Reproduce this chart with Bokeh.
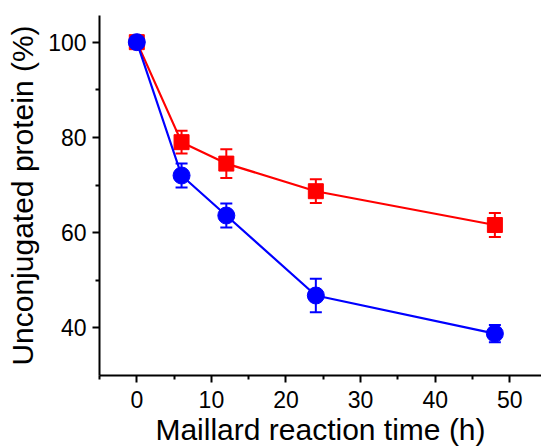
from bokeh.plotting import figure
from bokeh.models import ColumnDataSource, Whisker, Range1d, FixedTicker
from bokeh.embed import file_html
from bokeh.resources import INLINE

# Reaction times (h) and unconjugated protein (%) with standard deviations
time_h = [0, 6, 12, 24, 48]
red_vals = [100.0, 79.0, 74.5, 68.7, 61.6]
red_err = [0.8, 2.4, 3.0, 2.5, 2.5]
blue_vals = [100.0, 72.0, 63.6, 46.8, 38.8]
blue_err = [0.8, 2.5, 2.5, 3.5, 1.8]

x_ticks = [0, 10, 20, 30, 40, 50]
x_minor = [-5, 5, 15, 25, 35, 45]
y_ticks = [40, 60, 80, 100]
y_minor = [50, 70, 90]

FONT = "Liberation Sans"

p = figure(width=541, height=448, output_backend="svg", toolbar_location=None,
           x_range=Range1d(-5, 54.25), y_range=Range1d(30, 105.6),
           min_border_left=99, min_border_right=0, min_border_top=15,
           min_border_bottom=70)
p.outline_line_color = None
p.grid.visible = False
p.background_fill_color = "white"
p.border_fill_color = "white"

for ax in (p.xaxis, p.yaxis):
    ax.axis_line_width = 2
    ax.axis_line_color = "black"
    ax.major_tick_line_width = 2
    ax.minor_tick_line_width = 2
    ax.major_tick_out = 7
    ax.major_tick_in = 0
    ax.minor_tick_out = 4
    ax.minor_tick_in = 0
    ax.major_label_text_font = FONT
    ax.major_label_text_font_size = "23px"
    ax.major_label_text_color = "black"
    ax.axis_label_text_font = FONT
    ax.axis_label_text_font_size = "30px"
    ax.axis_label_text_font_style = "normal"
    ax.axis_label_text_color = "black"

p.xaxis.ticker = FixedTicker(ticks=x_ticks, minor_ticks=x_minor)
p.yaxis.ticker = FixedTicker(ticks=y_ticks, minor_ticks=y_minor)
p.xaxis.axis_label = "Maillard reaction time (h)"
p.yaxis.axis_label = "Unconjugated protein (%)"
p.xaxis.major_label_standoff = 8
p.yaxis.major_label_standoff = 6
p.xaxis.axis_label_standoff = 2
p.yaxis.axis_label_standoff = 6


def series(vals, errs, color, marker, size):
    src = ColumnDataSource(dict(
        x=time_h, y=vals,
        lo=[v - e for v, e in zip(vals, errs)],
        hi=[v + e for v, e in zip(vals, errs)],
    ))
    p.line("x", "y", source=src, line_color=color, line_width=2.2)
    w = Whisker(source=src, base="x", lower="lo", upper="hi",
                line_color=color, line_width=2)
    w.upper_head.size = 12
    w.lower_head.size = 12
    w.upper_head.line_color = color
    w.lower_head.line_color = color
    w.upper_head.line_width = 2
    w.lower_head.line_width = 2
    p.add_layout(w)
    p.scatter("x", "y", source=src, marker=marker, size=size,
              fill_color=color, line_color=color)


series(red_vals, red_err, "#ff0000", "square", 15)
series(blue_vals, blue_err, "#0000ff", "circle", 17)

open("out.html", "w").write(file_html(p, INLINE))
